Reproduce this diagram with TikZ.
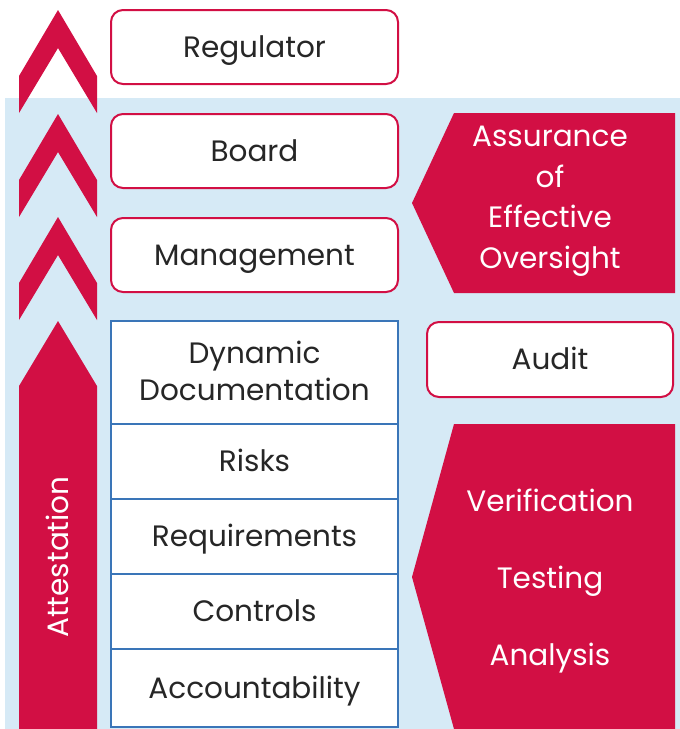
\documentclass[tikz,border=0pt]{standalone}
\usepackage{fontspec}
\setmainfont{Poppins}
\definecolor{crim}{HTML}{D20F44}
\definecolor{bgblue}{HTML}{D6EAF6}
\definecolor{boxblue}{HTML}{3A75B8}
\definecolor{txt}{HTML}{262626}
\begin{document}
\begin{tikzpicture}[x=1pt,y=-1pt,
  rbox/.style={draw=crim,line width=2pt,fill=white,rounded corners=12pt,minimum width=287pt,minimum height=74pt,inner sep=0pt,text=txt,font=\fontsize{29.5}{37}\selectfont,text height=20.6pt,text depth=0pt},
  sbox/.style={draw=boxblue,line width=2pt,fill=white,minimum width=287pt,inner sep=0pt,text=txt,align=center,font=\fontsize{29.5}{37}\selectfont,text height=20.6pt,text depth=0pt},
  mtxt/.style={anchor=base,align=center,inner sep=0pt,font=\fontsize{29.5}{37}\selectfont},
  wtxt/.style={text=white,align=center,inner sep=0pt,font=\fontsize{29.5}{37}\selectfont,text height=20.6pt,text depth=0pt}]
\useasboundingbox (0,0) rectangle (680,729);
\fill[bgblue] (5,98) rectangle (680,729);
% chevrons
\foreach \d in {0,104,207}{
  \fill[crim] (58,10+\d) -- (97,76+\d) -- (97,113+\d) -- (58,48+\d) -- (19,113+\d) -- (19,76+\d) -- cycle;
}
% attestation arrow
\fill[crim] (58,321) -- (97,386) -- (97,729) -- (19,729) -- (19,386) -- cycle;
\node[wtxt,rotate=90] (att) at (58,557) {Attestation};
% boxes
\node[rbox] (reg) at (254.5,47) {Regulator};
\node[rbox] (board) at (254.5,151) {Board};
\node[rbox] (mgmt) at (254.5,255) {Management};
\node[sbox,minimum height=103pt] (dyn) at (254.5,372.5) {};
\node[mtxt,text=txt] (dyntxt) at (254.5,400) {Dynamic\\Documentation};
\node[sbox,minimum height=75pt] (risk) at (254.5,461.5) {Risks};
\node[sbox,minimum height=75pt] (req) at (254.5,536.5) {Requirements};
\node[sbox,minimum height=75pt] (ctrl) at (254.5,611.5) {Controls};
\node[sbox,minimum height=78pt] (acc) at (254.5,688) {Accountability};
% right shapes
\fill[crim] (454,113) -- (675,113) -- (675,293) -- (454,293) -- (412,203) -- cycle;
\node[mtxt,text=white,font=\fontsize{29.5}{40.5}\selectfont] (assur) at (550,268) {Assurance\\of\\Effective\\Oversight};
\node[rbox,minimum width=246pt,minimum height=75pt] (audit) at (550,359.5) {Audit};
\fill[crim] (454,424) -- (675,424) -- (675,729) -- (454,729) -- (412,577) -- cycle;
\node[mtxt,text=white,font=\fontsize{29.5}{76.7}\selectfont] (vta) at (550,665) {Verification\\Testing\\Analysis};
\end{tikzpicture}
\end{document}
